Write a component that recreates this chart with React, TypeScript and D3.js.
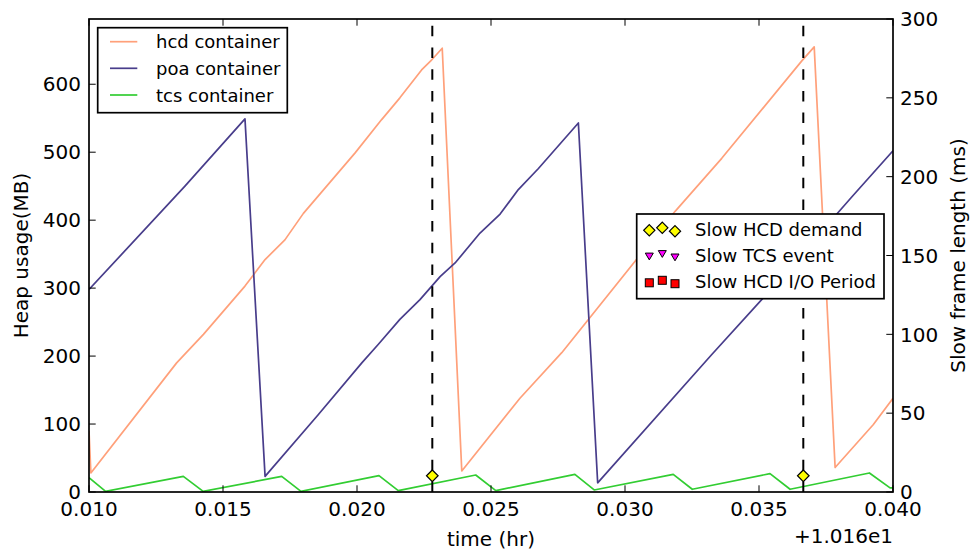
import React from "react";
import * as d3 from "d3";

// time offsets (hr) relative to +1.016e1
const hcdTime = [0.0100, 0.01007, 0.01327, 0.01427, 0.01582, 0.01657, 0.01731, 0.01800, 0.01993, 0.02092, 0.02160, 0.02241, 0.02279, 0.02318, 0.02391, 0.02608, 0.02764, 0.03187, 0.03361, 0.03659, 0.03706, 0.03784, 0.03926, 0.0400];
const hcdHeap = [90, 28, 190, 232, 303, 342, 371, 410, 499, 548, 580, 621, 636, 653, 31, 138, 205, 413, 491, 634, 655, 36, 99, 138];

const poaTime = [0.0100, 0.01358, 0.01582, 0.01657, 0.01856, 0.02018, 0.02079, 0.02160, 0.02235, 0.02310, 0.02366, 0.02459, 0.02534, 0.02602, 0.02677, 0.02826, 0.02898, 0.03323, 0.03510, 0.03846, 0.0400];
const poaHeap = [298, 450, 549, 23, 114, 190, 217, 254, 283, 317, 337, 381, 409, 445, 476, 543, 13.5, 202, 283, 434, 502];

const tcsTime = [0.0100, 0.01062, 0.01352, 0.01426, 0.01719, 0.01791, 0.02082, 0.02154, 0.02443, 0.02518, 0.02813, 0.02885, 0.03180, 0.03251, 0.03541, 0.03616, 0.03912, 0.03989, 0.0400];
const tcsHeap = [21, 1, 23, 1, 23, 1, 24, 2, 25, 2, 26, 3, 26, 4, 27, 4, 28, 6, 6];

const slowHcdDemandTime = [0.02281, 0.036653];
const slowHcdDemandMs = [10.3, 10.3];

const xTicks = [0.010, 0.015, 0.020, 0.025, 0.030, 0.035, 0.040];
const yLeftTicks = [0, 100, 200, 300, 400, 500, 600];
const yRightTicks = [0, 50, 100, 150, 200, 250, 300];

const seriesNames = ["hcd container", "poa container", "tcs container"];
const seriesColors = ["#FFA07A", "#483D8B", "#32CD32"];
const eventNames = ["Slow HCD demand", "Slow TCS event", "Slow HCD I/O Period"];

const W = 971, H = 550;
const L = 89, R = 893, T = 19, B = 492;
const FONT = "DejaVu Sans, sans-serif";

export default function App() {
  const x = d3.scaleLinear().domain([0.010, 0.040]).range([L, R]);
  const yL = d3.scaleLinear().domain([0, 696]).range([B, T]);
  const yR = d3.scaleLinear().domain([0, 300]).range([B, T]);

  const mk = (ts: number[], vs: number[]) =>
    d3.line<number>().x((_, i) => x(ts[i])).y((v) => yL(v))(vs) || "";

  const paths = [mk(hcdTime, hcdHeap), mk(poaTime, poaHeap), mk(tcsTime, tcsHeap)];

  const diamond = (cx: number, cy: number, r: number) =>
    `M${cx},${cy - r}L${cx + r},${cy}L${cx},${cy + r}L${cx - r},${cy}Z`;
  const triDown = (cx: number, cy: number, r: number) =>
    `M${cx - r},${cy - r * 0.8}L${cx + r},${cy - r * 0.8}L${cx},${cy + r * 0.9}Z`;

  const leg1Rows = [41.7, 68.3, 95];
  const leg2Rows = [229, 255, 281.5];
  const mxs = [649.3, 662.3, 675];
  const myOff = [1.3, -1.2, 2.2];

  return (
    <svg width={W} height={H} style={{ position: "fixed", left: 0, top: 0, background: "#fff" }} fontFamily={FONT}>
      <rect x={0} y={0} width={W} height={H} fill="#fff" />
      <defs>
        <clipPath id="plot">
          <rect x={L} y={T} width={R - L} height={B - T} />
        </clipPath>
      </defs>
      <g clipPath="url(#plot)">
        {paths.map((d, i) => (
          <path key={i} d={d} fill="none" stroke={seriesColors[i]} strokeWidth={1.7} strokeLinejoin="round" />
        ))}
        {slowHcdDemandTime.map((t, i) => (
          <line key={"v" + i} x1={x(t)} x2={x(t)} y1={B} y2={T} stroke="#000" strokeWidth={2} strokeDasharray="10.5,11.2" />
        ))}
        {slowHcdDemandTime.map((t, i) => (
          <path key={"d" + i} d={diamond(x(t), yR(slowHcdDemandMs[i]), 5.8)} fill="#FFFF00" stroke="#000" strokeWidth={1.2} />
        ))}
      </g>
      {/* frame */}
      <rect x={L} y={T} width={R - L} height={B - T} fill="none" stroke="#000" strokeWidth={1.7} />
      {/* x ticks */}
      {xTicks.map((t, i) => (
        <g key={"xt" + i}>
          <line x1={x(t)} x2={x(t)} y1={B} y2={B - 6.7} stroke="#000" strokeWidth={1} />
          <line x1={x(t)} x2={x(t)} y1={T} y2={T + 6.7} stroke="#000" strokeWidth={1} />
          <text x={x(t)} y={516} fontSize={20} textAnchor="middle">{d3.format(".3f")(t)}</text>
        </g>
      ))}
      {yLeftTicks.map((v, i) => (
        <g key={"yl" + i}>
          <line x1={L} x2={L + 6.7} y1={yL(v)} y2={yL(v)} stroke="#000" strokeWidth={1} />
          <text x={81} y={yL(v) + 7.2} fontSize={20} textAnchor="end">{v}</text>
        </g>
      ))}
      {yRightTicks.map((v, i) => (
        <g key={"yr" + i}>
          <line x1={R} x2={R - 6.7} y1={yR(v)} y2={yR(v)} stroke="#000" strokeWidth={1} />
          <text x={900} y={yR(v) + 7.2} fontSize={20} textAnchor="start">{v}</text>
        </g>
      ))}
      <text x={(L + R) / 2} y={546} fontSize={20} textAnchor="middle">time (hr)</text>
      <text x={R} y={543} fontSize={20} textAnchor="end">+1.016e1</text>
      <text transform={`translate(28,${(T + B) / 2}) rotate(-90)`} fontSize={20} textAnchor="middle">Heap usage(MB)</text>
      <text transform={`translate(965,${(T + B) / 2}) rotate(-90)`} fontSize={20} textAnchor="middle">Slow frame length (ms)</text>

      {/* legend 1 */}
      <rect x={97.7} y={27.7} width={189.6} height={85} fill="#fff" stroke="#000" strokeWidth={1.7} />
      {seriesNames.map((n, i) => (
        <g key={"l1" + i}>
          <line x1={110} x2={137.3} y1={leg1Rows[i]} y2={leg1Rows[i]} stroke={seriesColors[i]} strokeWidth={1.7} />
          <text x={156} y={leg1Rows[i] + 6.5} fontSize={18}>{n}</text>
        </g>
      ))}

      {/* legend 2 */}
      <rect x={636.7} y={214} width={247.3} height={84.7} fill="#fff" stroke="#000" strokeWidth={1.7} />
      {eventNames.map((n, i) => (
        <g key={"l2" + i}>
          {mxs.map((mx, j) => {
            const cy = leg2Rows[i] + myOff[j];
            if (i === 0) return <path key={j} d={diamond(mx, cy, 5.6)} fill="#FFFF00" stroke="#000" strokeWidth={1.2} />;
            if (i === 1) return <path key={j} d={triDown(mx, cy, 4)} fill="#FF00FF" stroke="#000" strokeWidth={1} />;
            return <rect key={j} x={mx - 4} y={cy - 4} width={8} height={8} fill="#FF0000" stroke="#000" strokeWidth={1} />;
          })}
          <text x={695} y={leg2Rows[i] + 6.5} fontSize={18}>{n}</text>
        </g>
      ))}
    </svg>
  );
}
